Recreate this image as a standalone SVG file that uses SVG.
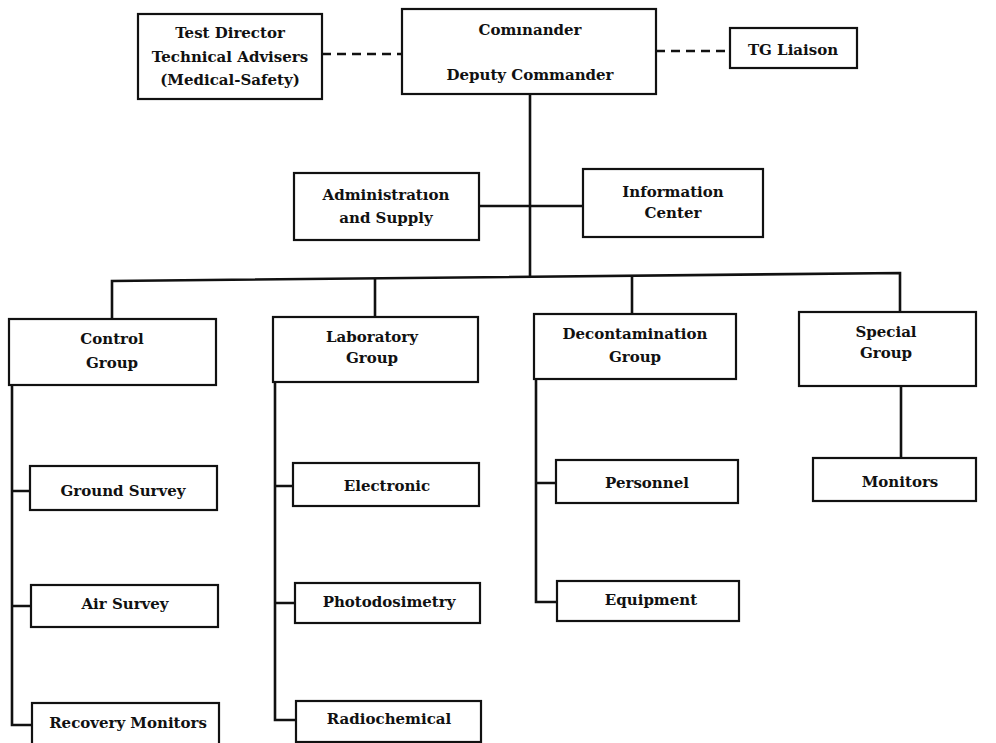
<svg xmlns="http://www.w3.org/2000/svg" width="996" height="743" viewBox="0 0 996 743">
<style>
.box{fill:#fff;stroke:#111;stroke-width:2.2}
.ln{fill:none;stroke:#111;stroke-width:2.6}
.dash{fill:none;stroke:#111;stroke-width:2.4;stroke-dasharray:9 6}
text{font-family:"DejaVu Serif","Liberation Serif",serif;font-weight:bold;font-size:15px;fill:#111;text-anchor:middle}
</style>
<rect width="996" height="743" fill="#fff"/>
<g id="connectors">
<path class="dash" d="M322 54 H402"/>
<path class="dash" d="M656 51 H730"/>
<path class="ln" d="M530 94 V277"/>
<path class="ln" d="M479 206 H583"/>
<path class="ln" d="M112 319 V281 L900 273 V312"/>
<path class="ln" d="M375 279 V317"/>
<path class="ln" d="M632 276 V314"/>
<path class="ln" d="M12 385 V725 H32 M12 491 H30 M12 606 H31"/>
<path class="ln" d="M275 382 V720 H296 M275 486 H293 M275 603 H295"/>
<path class="ln" d="M536 379 V602 H557 M536 483 H556"/>
<path class="ln" d="M901 386 V458"/>
</g>
<g id="test-director"><rect class="box" x="138" y="14" width="184" height="85"/><text x="230" y="38">Test Director</text><text x="230" y="62">Technical Advisers</text><text x="230" y="85">(Medical-Safety)</text></g>
<g id="commander"><rect class="box" x="402" y="9" width="254" height="85"/><text x="530" y="35">Comınander</text><text x="530" y="80">Deputy Commander</text></g>
<g id="tg-liaison"><rect class="box" x="730" y="28" width="127" height="40"/><text x="793" y="55">TG Liaison</text></g>
<g id="admin"><rect class="box" x="294" y="173" width="185" height="67"/><text x="386" y="200">Administratıon</text><text x="386" y="223">and Supply</text></g>
<g id="info"><rect class="box" x="583" y="169" width="180" height="68"/><text x="673" y="197">Information</text><text x="673" y="218">Center</text></g>
<g id="control"><rect class="box" x="9" y="319" width="207" height="66"/><text x="112" y="344">Control</text><text x="112" y="368">Group</text></g>
<g id="laboratory"><rect class="box" x="273" y="317" width="205" height="65"/><text x="372" y="342">Laboratory</text><text x="372" y="363">Group</text></g>
<g id="decontamination"><rect class="box" x="534" y="314" width="202" height="65"/><text x="635" y="339">Decontamination</text><text x="635" y="362">Group</text></g>
<g id="special"><rect class="box" x="799" y="312" width="177" height="74"/><text x="886" y="337">Special</text><text x="886" y="358">Group</text></g>
<g id="ground-survey"><rect class="box" x="30" y="466" width="187" height="44"/><text x="123" y="496">Ground Survey</text></g>
<g id="air-survey"><rect class="box" x="31" y="585" width="187" height="42"/><text x="125" y="609">Air Survey</text></g>
<g id="recovery-monitors"><rect class="box" x="32" y="703" width="187" height="50"/><text x="128" y="728">Recovery Monitors</text></g>
<g id="electronic"><rect class="box" x="293" y="463" width="186" height="43"/><text x="387" y="491">Electronic</text></g>
<g id="photodosimetry"><rect class="box" x="295" y="583" width="185" height="40"/><text x="389" y="607">Photodosimetry</text></g>
<g id="radiochemical"><rect class="box" x="296" y="701" width="185" height="41"/><text x="389" y="724">Radiochemical</text></g>
<g id="personnel"><rect class="box" x="556" y="460" width="182" height="43"/><text x="647" y="488">Personnel</text></g>
<g id="equipment"><rect class="box" x="557" y="581" width="182" height="40"/><text x="651" y="605">Equipment</text></g>
<g id="monitors"><rect class="box" x="813" y="458" width="163" height="43"/><text x="900" y="487">Monitors</text></g>
</svg>
